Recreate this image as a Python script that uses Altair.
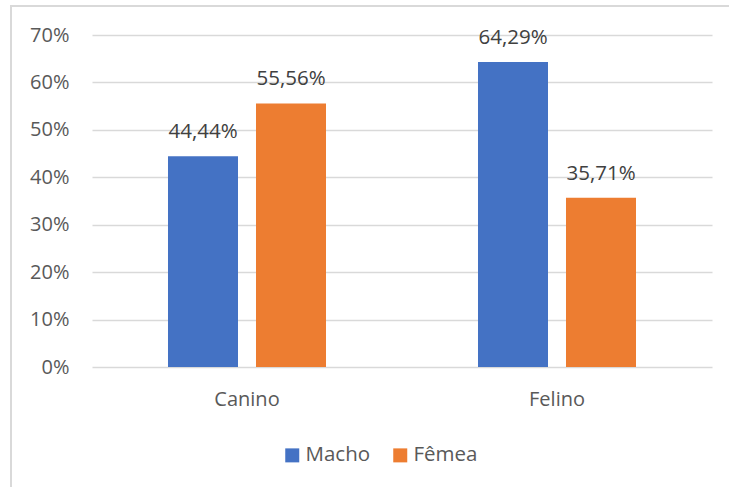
import altair as alt
import pandas as pd

especies = ["Canino", "Felino"]
sexos = ["Macho", "Fêmea"]
macho = [44.44, 64.29]
femea = [55.56, 35.71]
y_ticks = [0, 10, 20, 30, 40, 50, 60, 70]
colors = ["#4472C4", "#ED7D31"]

rows = []
for i, e in enumerate(especies):
    for s, vals in zip(sexos, [macho, femea]):
        v = vals[i]
        rows.append({"especie": e, "sexo": s, "valor": v,
                     "rotulo": f"{v:.2f}%".replace(".", ",")})
df = pd.DataFrame(rows)

FONT = "Open Sans"
AXIS_COLOR = "#595959"

base = alt.Chart(df).encode(
    x=alt.X("especie:N", sort=especies,
            scale=alt.Scale(paddingInner=0, paddingOuter=0),
            axis=alt.Axis(title=None, labelAngle=0, domain=False, ticks=False,
                          labelPadding=22, labelFontSize=20, labelColor=AXIS_COLOR,
                          labelFont=FONT)),
    xOffset=alt.XOffset("sexo:N", sort=sexos,
                        scale=alt.Scale(paddingInner=0.2045, paddingOuter=0.8636)),
)

bars = base.mark_bar().encode(
    y=alt.Y("valor:Q", scale=alt.Scale(domain=[0, 70], nice=False),
            axis=alt.Axis(values=y_ticks, labelExpr="datum.value + '%'", title=None,
                          domain=False, ticks=False, labelPadding=23, labelFontSize=20,
                          labelColor=AXIS_COLOR, gridColor="#D9D9D9", gridWidth=1.5,
                          labelFont=FONT)),
    color=alt.Color("sexo:N", sort=sexos,
                    scale=alt.Scale(domain=sexos, range=colors),
                    legend=alt.Legend(orient="none", legendX=190, legendY=410,
                                      direction="horizontal", symbolType="square",
                                      symbolSize=196, symbolStrokeWidth=0,
                                      labelFontSize=20.5, labelColor=AXIS_COLOR,
                                      labelFont=FONT, title=None, columnPadding=19,
                                      labelOffset=3, padding=0)),
)

labels = base.mark_text(baseline="alphabetic", dy=-18, fontSize=20.5,
                        color="#404040", font=FONT).encode(
    y=alt.Y("valor:Q"),
    text=alt.Text("rotulo:N"),
)

border = alt.Chart(pd.DataFrame({"k": [0]})).mark_rect(
    fillOpacity=0, stroke="#D9D9D9", strokeWidth=2
).encode(
    x=alt.value(-81), y=alt.value(-29), x2=alt.value(700), y2=alt.value(600)
)

chart = alt.layer(border, bars, labels).properties(
    width=620, height=332,
    autosize=alt.AutoSizeParams(type="none"),
    padding={"left": 92, "top": 35, "right": 17, "bottom": 120},
).configure_view(stroke=None)

chart.save("out.html", embed_options={"renderer": "svg", "actions": False})
